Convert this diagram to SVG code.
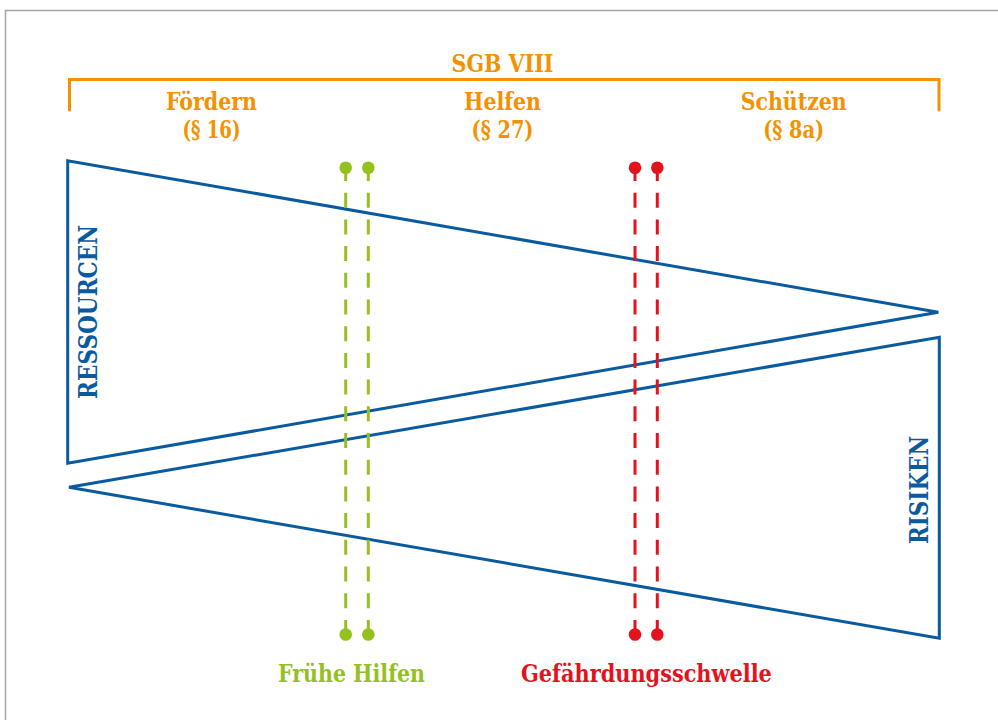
<svg xmlns="http://www.w3.org/2000/svg" width="998" height="720" viewBox="0 0 998 720">
  <style>
    .t { font-family: "DejaVu Serif Condensed", "DejaVu Serif", "Liberation Serif", serif; font-weight: bold; font-size: 24.5px; text-anchor: middle; }
    .v { font-size: 26px; }
    .or { fill: #F39200; }
    .bl { fill: #0A5AA0; }
    .gr { fill: #95C11F; }
    .rd { fill: #E3121C; }
    .tri { fill: none; stroke: #0A5AA0; stroke-width: 3; stroke-linejoin: miter; }
    .dash { stroke-width: 3; stroke-dasharray: 15 11.7; fill: none; }
  </style>
  <rect x="5.5" y="10.5" width="1000" height="720" fill="#fff" stroke="#a6a6a6" stroke-width="1.5"/>

  <g id="header">
    <path d="M69.5 110 V79.5 H939 V110" fill="none" stroke="#F39200" stroke-width="3" stroke-linecap="round" stroke-linejoin="miter"/>
    <text class="t or" x="502.5" y="72" textLength="102" lengthAdjust="spacingAndGlyphs">SGB VIII</text>
    <text class="t or" x="211.5" y="110" textLength="91" lengthAdjust="spacingAndGlyphs">Fördern</text>
    <text class="t or" x="211.5" y="138" textLength="58" lengthAdjust="spacingAndGlyphs">(§ 16)</text>
    <text class="t or" x="502.5" y="110" textLength="77" lengthAdjust="spacingAndGlyphs">Helfen</text>
    <text class="t or" x="502.5" y="138" textLength="62" lengthAdjust="spacingAndGlyphs">(§ 27)</text>
    <text class="t or" x="793.7" y="110" textLength="106" lengthAdjust="spacingAndGlyphs">Schützen</text>
    <text class="t or" x="793.7" y="138" textLength="61" lengthAdjust="spacingAndGlyphs">(§ 8a)</text>
  </g>

  <g id="ressourcen">
    <polygon class="tri" points="67.7,160.7 67.7,463.3 938.3,312.3"/>
    <text class="t v bl" transform="translate(97,312) rotate(-90)" x="0" y="0" textLength="174" lengthAdjust="spacingAndGlyphs">RESSOURCEN</text>
  </g>

  <g id="risiken">
    <polygon class="tri" points="69,487.3 939.3,337.3 939.3,638.3"/>
    <text class="t v bl" transform="translate(928,490) rotate(-90)" x="0" y="0" textLength="108" lengthAdjust="spacingAndGlyphs">RISIKEN</text>
  </g>

  <g id="connectors">
    <g stroke="#95C11F" fill="#95C11F">
      <line class="dash" x1="345.7" y1="166" x2="345.7" y2="635"/>
      <line class="dash" x1="368.3" y1="166" x2="368.3" y2="635"/>
      <circle cx="345.7" cy="167.7" r="6.3" stroke="none"/>
      <circle cx="368.3" cy="167.7" r="6.3" stroke="none"/>
      <circle cx="345.7" cy="634.5" r="6.3" stroke="none"/>
      <circle cx="368.3" cy="634.5" r="6.3" stroke="none"/>
    </g>
    <g stroke="#E3121C" fill="#E3121C">
      <line class="dash" x1="635" y1="166" x2="635" y2="635"/>
      <line class="dash" x1="657.3" y1="166" x2="657.3" y2="635"/>
      <circle cx="635" cy="167.7" r="6.3" stroke="none"/>
      <circle cx="657.3" cy="167.7" r="6.3" stroke="none"/>
      <circle cx="635" cy="634.5" r="6.3" stroke="none"/>
      <circle cx="657.3" cy="634.5" r="6.3" stroke="none"/>
    </g>
  </g>

  <g id="fruehe-hilfen">
    <text class="t gr" x="351.5" y="682" textLength="147" lengthAdjust="spacingAndGlyphs">Frühe Hilfen</text>
  </g>
  <g id="gefaehrdungsschwelle">
    <text class="t rd" x="646.4" y="682" textLength="251" lengthAdjust="spacingAndGlyphs">Gefährdungsschwelle</text>
  </g>
</svg>
